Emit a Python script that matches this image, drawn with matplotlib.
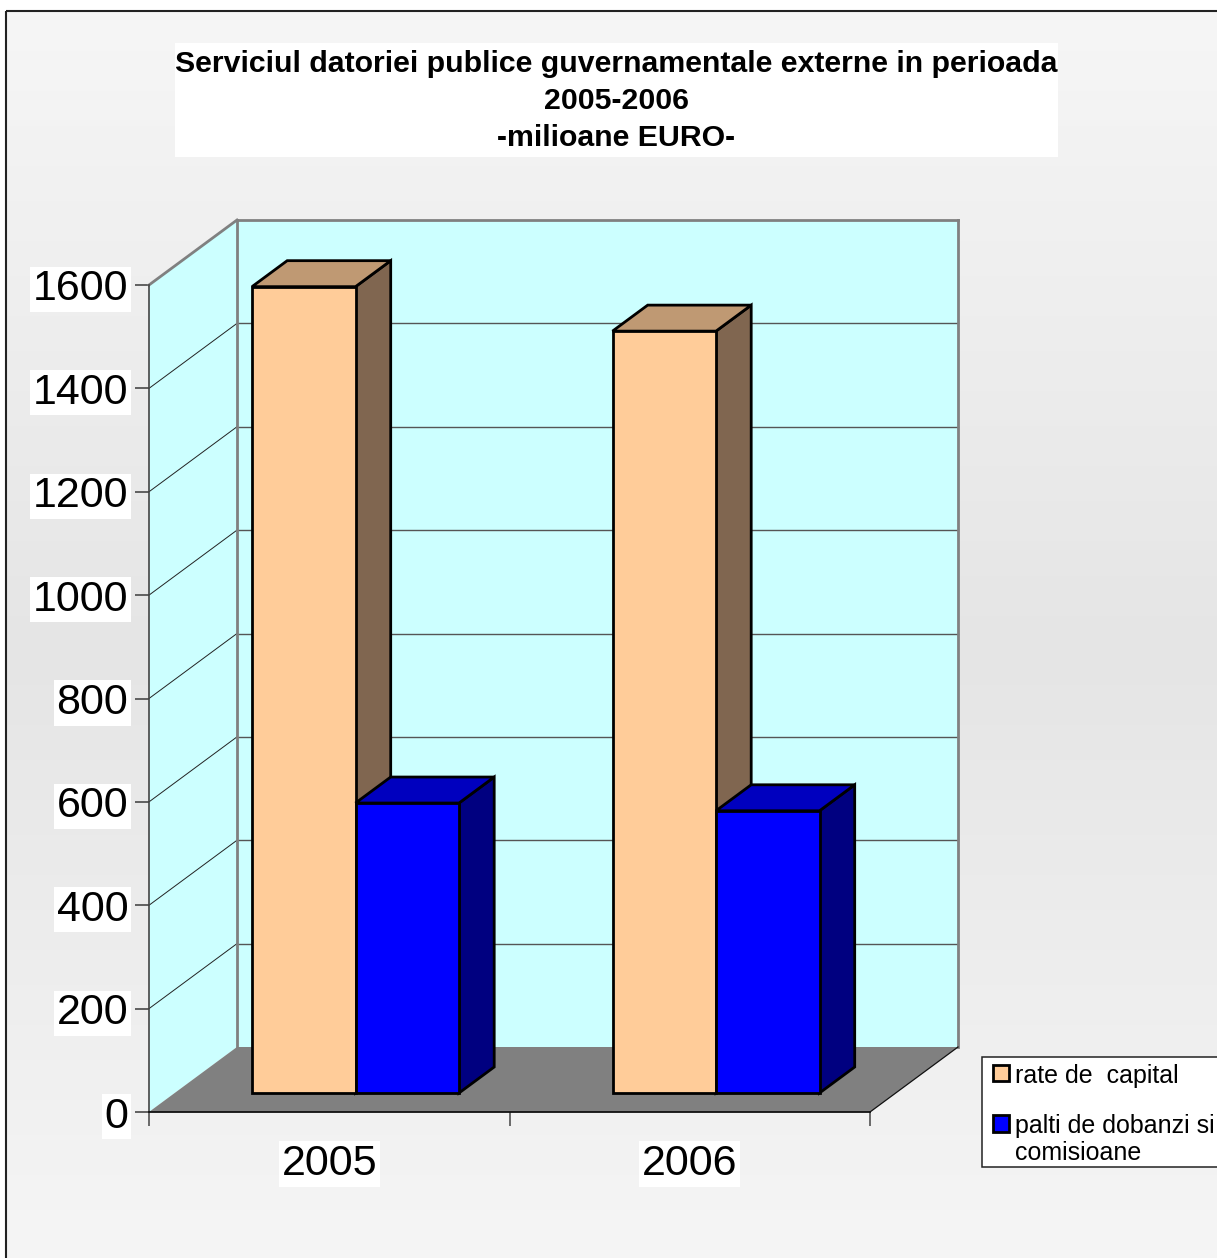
import numpy as np
import matplotlib
matplotlib.use("Agg")
import matplotlib.pyplot as plt
from matplotlib.patches import Polygon, Patch, Rectangle
from matplotlib.legend_handler import HandlerPatch
from matplotlib.colors import LinearSegmentedColormap

plt.rcParams['font.family'] = ['Liberation Sans', 'DejaVu Sans']

# ---- data ----
categories = ['2005', '2006']
rate_capital = [1560, 1474]
plati_dobanzi = [561, 546]
series_names = ['rate de  capital', 'palti de dobanzi si\ncomisioane']
y_ticks = [0, 200, 400, 600, 800, 1000, 1200, 1400, 1600]
title = 'Serviciul datoriei publice guvernamentale externe in perioada\n2005-2006\n-milioane EURO-'

W, H = 1217, 1258
fig = plt.figure(figsize=(W / 100, H / 100), dpi=100, facecolor='white')

# background panel with a soft vertical gradient
bg = fig.add_axes([0, 0, 1, 1], zorder=0)
bg.axis('off')
cmap = LinearSegmentedColormap.from_list('g', ['#f6f6f6', '#e5e5e5', '#f6f6f6'])
bg.imshow(np.linspace(0, 1, 256)[:, None], cmap=cmap, aspect='auto',
          extent=[6, W + 5, 1290, 11], vmin=0, vmax=1)
bg.set_xlim(0, W); bg.set_ylim(H, 0)
bg.add_patch(Rectangle((6, 11), W + 20, H + 20, fill=False, ec='#222222', lw=1.5))
# legend frame (its text and keys are a real legend below)
bg.add_patch(Rectangle((982, 1057), W, 110, fc='white', ec='#222222', lw=1.1))
# white band behind the title
bg.add_patch(Rectangle((175, 43), 883, 114, fc='white', ec='none'))

# front plane of the 3-D box: x = 0..n categories, y = value
L, R, T, B = 149, 870, 285, 1112
ax = fig.add_axes([L / W, 1 - B / H, (R - L) / W, (B - T) / H], zorder=2)
ax.patch.set_alpha(0)
n = len(categories)
ymax = y_ticks[-1]
ax.set_xlim(0, n); ax.set_ylim(0, ymax)
for s in ax.spines.values():
    s.set_visible(False)

ux = (R - L) / n          # px per category
uy = (B - T) / ymax       # px per value
DX, DY = 88 / ux, 65 / uy # depth of the box in data units


def poly(pts, fc, ec='none', lw=0, z=1):
    ax.add_patch(Polygon(pts, closed=True, fc=fc, ec=ec, lw=lw, zorder=z,
                         clip_on=False, joinstyle='miter'))


def line(xs, ys, c, lw, z=2):
    ax.plot(xs, ys, color=c, lw=lw, clip_on=False, zorder=z, solid_capstyle='projecting')


wall = '#ccffff'
poly([(0, 0), (0, ymax), (DX, ymax + DY), (DX, DY)], wall)
poly([(DX, DY), (DX, ymax + DY), (n + DX, ymax + DY), (n + DX, DY)], wall)
poly([(0, 0), (DX, DY), (n + DX, DY), (n, 0)], '#808080')

for v in y_ticks[1:-1]:
    line([0, DX], [v, v + DY], '#222222', 0.7)
    line([DX, n + DX], [v + DY, v + DY], '#555555', 1.0)

# wall borders
line([0, DX], [ymax, ymax + DY], '#808080', 2.0)
line([DX, n + DX], [ymax + DY, ymax + DY], '#808080', 2.0)
line([DX, DX], [DY, ymax + DY], '#808080', 2.0)
line([n + DX, n + DX], [DY, ymax + DY], '#808080', 2.0)
line([0, 0], [0, ymax], '#444444', 1.2)
line([0, n], [0, 0], '#111111', 1.3)
line([n, n + DX], [0, DY], '#111111', 0.9)

# 3-D bars
d0, d1 = 19 / 65, 45 / 65  # depth range occupied by the bars
bw = 103.5 / ux
start = (252 - L) / ux - d0 * DX


def bar3d(x, v, front, top, side):
    x0 = x + d0 * DX
    x1 = x0 + bw
    y0 = d0 * DY
    y1 = y0 + v
    ox, oy = (d1 - d0) * DX, (d1 - d0) * DY
    kw = dict(ec='black', lw=2.0, z=5)
    poly([(x1, y0), (x1 + ox, y0 + oy), (x1 + ox, y1 + oy), (x1, y1)], side, **kw)
    poly([(x0, y1), (x0 + ox, y1 + oy), (x1 + ox, y1 + oy), (x1, y1)], top, **kw)
    poly([(x0, y0), (x1, y0), (x1, y1), (x0, y1)], front, **kw)


for i in range(n):
    bar3d(i + start, rate_capital[i], '#ffcc99', '#bf9973', '#806650')
    bar3d(i + start + bw, plati_dobanzi[i], '#0000ff', '#0000bf', '#000080')

# axes ticks and labels
ax.set_yticks(y_ticks)
ax.set_yticklabels([str(v) for v in y_ticks], fontsize=31,
                   bbox=dict(fc='white', ec='none', pad=2))
ax.tick_params(axis='y', length=10, width=1.3, color='#555555', pad=5)
ax.set_xticks(range(n + 1))
ax.set_xticklabels([])
ax.tick_params(axis='x', which='major', length=10, width=1.1, color='#444444')
ax.set_xticks([i + 0.5 for i in range(n)], minor=True)
ax.set_xticklabels(categories, minor=True, fontsize=31,
                   bbox=dict(fc='white', ec='none', pad=2))
ax.tick_params(axis='x', which='minor', length=0, pad=23)

# title
fig.text(616.5 / W, 1 - 101 / H, title, ha='center', va='center', fontsize=21.75,
         fontweight='bold', linespacing=1.4, zorder=3)


# legend: keys sit on the first line of their label
def key(legend, orig_handle, xdescent, ydescent, width, height, fontsize):
    shift = 12.0 if '\n' in orig_handle.get_label() else 0.8
    return Rectangle((-xdescent, -ydescent + shift), width, height)


handles = [Patch(fc='#ffcc99', ec='black', lw=2, label=series_names[0]),
           Patch(fc='#0000ff', ec='black', lw=2, label=series_names[1])]
leg = fig.legend(handles, series_names, loc='upper left',
                 bbox_to_anchor=(993.25 / W, 1 - 1064.25 / H), bbox_transform=fig.transFigure,
                 borderaxespad=0, fontsize=18, frameon=False, borderpad=0,
                 handlelength=0.62, handleheight=0.62, handletextpad=0.26, labelspacing=1.01,
                 handler_map={Patch: HandlerPatch(patch_func=key)})
leg.set_zorder(6)

fig.savefig('out.png', dpi=100)
